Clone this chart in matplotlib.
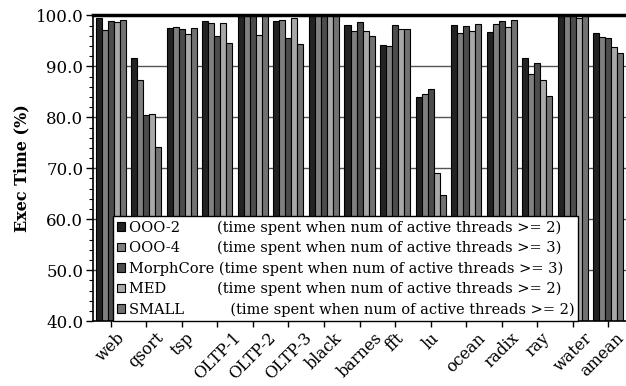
import numpy as np
import matplotlib
matplotlib.use('Agg')
import matplotlib.pyplot as plt
import matplotlib.transforms as mtransforms
from matplotlib.ticker import MultipleLocator, FormatStrFormatter

# Data
benchmarks = ['web', 'qsort', 'tsp', 'OLTP-1', 'OLTP-2', 'OLTP-3', 'black', 'barnes',
              'fft', 'lu', 'ocean', 'radix', 'ray', 'water', 'amean']
ooo2 = [99.4, 91.7, 97.6, 99.0, 100.0, 99.0, 100.0, 98.2, 94.2, 84.0, 98.2, 96.8, 91.7, 100.0, 96.5]
ooo4 = [97.2, 87.4, 97.8, 98.5, 100.0, 99.2, 100.0, 97.0, 94.1, 84.6, 96.6, 98.3, 88.6, 100.0, 95.7]
morphcore = [98.9, 80.5, 97.4, 96.0, 100.0, 95.5, 100.0, 98.7, 98.2, 85.5, 97.9, 98.9, 90.7, 100.0, 95.5]
med = [98.7, 80.6, 96.3, 98.6, 96.1, 99.4, 100.0, 96.9, 97.4, 69.1, 96.9, 97.7, 87.4, 99.4, 93.9]
small = [99.1, 74.1, 97.6, 94.6, 100.0, 94.3, 100.0, 95.9, 97.4, 64.7, 98.4, 99.1, 84.1, 100.0, 92.7]

labels = ['OOO-2        (time spent when num of active threads >= 2)',
          'OOO-4        (time spent when num of active threads >= 3)',
          'MorphCore (time spent when num of active threads >= 3)',
          'MED           (time spent when num of active threads >= 2)',
          'SMALL          (time spent when num of active threads >= 2)']
series = [ooo2, ooo4, morphcore, med, small]
colors = ['#232323', '#7f7f7f', '#4c4c4c', '#a8a8a8', '#727272']

plt.rcParams['font.family'] = 'DejaVu Serif'
plt.rcParams['font.size'] = 12

fig = plt.figure(figsize=(6.26, 3.86), dpi=100)
ax = fig.add_axes([0.1486, 0.168, 0.8514, 0.792])

x = np.arange(len(benchmarks))
w = 0.169
for k, (vals, col, lab) in enumerate(zip(series, colors, labels)):
    ax.bar(x + (k - 2) * w, vals, width=w, color=col, edgecolor='black',
           linewidth=0.8, label=lab, zorder=2)

ax.set_xlim(-0.5, 14.5)
ax.set_ylim(40, 100)
ax.yaxis.set_major_locator(MultipleLocator(10))
ax.yaxis.set_minor_locator(MultipleLocator(2))
ax.yaxis.set_major_formatter(FormatStrFormatter('%.1f'))
ax.grid(axis='y', color='#555555', linewidth=1.0, zorder=0)
ax.set_axisbelow(True)

ax.set_xticks(x)
ax.set_xticklabels(benchmarks, rotation=45, ha='center', fontsize=11.5)
ax.tick_params(axis='x', direction='out', length=4, width=1, pad=2)
ax.tick_params(axis='y', which='major', direction='out', length=5, width=1, pad=2, labelsize=12)
ax.tick_params(axis='y', which='minor', direction='out', length=3, width=0.8)

# keep the last label inside the figure
last = ax.get_xticklabels()[-1]
last.set_transform(last.get_transform() + mtransforms.ScaledTranslation(-6 / 100, 0, fig.dpi_scale_trans))

ax.spines['top'].set_linewidth(2.5)
ax.spines['right'].set_visible(False)
ax.spines['left'].set_linewidth(1.2)
ax.spines['bottom'].set_linewidth(1.2)

ax.set_ylabel('Exec Time (%)', fontweight='bold', fontsize=11.5, labelpad=4)

leg = ax.legend(loc='lower left', bbox_to_anchor=(0.0375, 0.0, 0.8725, 0.35),
                mode='expand', fancybox=False, framealpha=1, edgecolor='black',
                handlelength=0.5, handleheight=0.5, handletextpad=0.3,
                labelspacing=0.42, borderpad=0.3, borderaxespad=0.0,
                fontsize=10.5)
leg.get_frame().set_linewidth(1.0)
leg.set_zorder(5)

fig.savefig('out.png', dpi=100)
